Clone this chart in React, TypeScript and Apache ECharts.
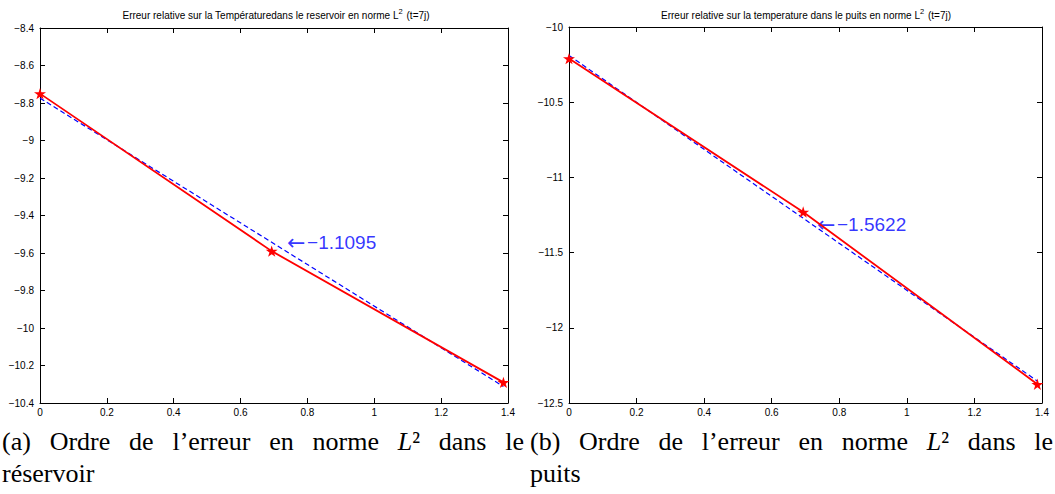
import React, { useEffect, useRef } from "react";
import * as echarts from "echarts";

const X_POINTS = [0, 0.6931, 1.3863];
const RES_ERR = [-8.75, -9.59, -10.29];
const FIT_X = [0, 1.3863];
const RES_FIT = [-8.774, -10.312];
const PUITS_ERR = [-10.21, -11.23, -12.375];
const PUITS_FIT = [-10.189, -12.354];
const RES_SLOPE_LABEL = "−1.1095";
const PUITS_SLOPE_LABEL = "−1.5622";
const RES_LABEL_POS = [0.739, -9.546];
const PUITS_LABEL_POS = [0.734, -11.313];

const TITLE_A_PRE = "Erreur relative sur la Températuredans le reservoir en norme L";
const TITLE_B_PRE = "Erreur relative sur la temperature dans le puits en norme L";
const TITLE_POST = " (t=7j)";

const CAPTION_A1 = ["(a)", "Ordre", "de", "l’erreur", "en", "norme", "L²", "dans", "le"];
const CAPTION_A2 = "réservoir";
const CAPTION_B1 = ["(b)", "Ordre", "de", "l’erreur", "en", "norme", "L²", "dans", "le"];
const CAPTION_B2 = "puits";

const STAR = "path://M50,0 L61,35 L98,35 L68,57 L79,91 L50,70 L21,91 L32,57 L2,35 L39,35 Z";
const SANS = "Liberation Sans, Arial, Helvetica, sans-serif";
const SERIF = "Liberation Serif, Times New Roman, serif";
const CAP_SIZE = 26;

const fmt = (v: number) => String(parseFloat(v.toFixed(2))).replace("-", "−");

function axesFor(idx: number, min: number, max: number, interval: number) {
  const common = {
    gridIndex: idx,
    axisLine: { show: true, onZero: false, lineStyle: { color: "#000", width: 1 } },
    axisTick: { show: true, inside: true, length: 5, lineStyle: { color: "#000" } },
    splitLine: { show: false },
  };
  const xs = [
    {
      ...common,
      type: "value",
      position: "bottom",
      min: 0,
      max: 1.4,
      interval: 0.2,
      axisLabel: { color: "#000", fontSize: 10, fontFamily: SANS, margin: 4, formatter: fmt },
    },
    { ...common, type: "value", position: "top", min: 0, max: 1.4, interval: 0.2, axisLabel: { show: false } },
  ];
  const ys = [
    {
      ...common,
      type: "value",
      position: "left",
      min,
      max,
      interval,
      axisLabel: { color: "#000", fontSize: 10, fontFamily: SANS, margin: 6, formatter: fmt },
    },
    { ...common, type: "value", position: "right", min, max, interval, axisLabel: { show: false } },
  ];
  return { xs, ys };
}

function seriesFor(
  xAxisIndex: number,
  yAxisIndex: number,
  err: number[],
  fit: number[],
  label: string,
  labelPos: number[]
) {
  return [
    {
      type: "line",
      xAxisIndex,
      yAxisIndex,
      data: FIT_X.map((x, i) => [x, fit[i]]),
      showSymbol: false,
      symbol: "none",
      clip: false,
      lineStyle: { color: "#0000ff", width: 1.2, type: [5, 3] },
    },
    {
      type: "line",
      xAxisIndex,
      yAxisIndex,
      data: X_POINTS.map((x, i) => [x, err[i]]),
      symbol: STAR,
      symbolSize: 12,
      symbolKeepAspect: true,
      clip: false,
      itemStyle: { color: "#ff0000" },
      lineStyle: { color: "#ff0000", width: 1.8 },
    },
    {
      type: "scatter",
      xAxisIndex,
      yAxisIndex,
      data: [labelPos],
      symbolSize: 0,
      label: {
        show: true,
        position: "right",
        distance: 0,
        formatter: `{a|←}{t|${label}}`,
        rich: {
          a: { color: "#0000ff", fontSize: 22, fontFamily: "DejaVu Sans", width: 20, align: "left" },
          t: { color: "#0000ff", fontSize: 19, fontFamily: SANS },
        },
      },
    },
  ];
}

export default function App() {
  const ref = useRef<HTMLDivElement>(null);
  useEffect(() => {
    if (!ref.current) return;
    const chart = echarts.init(ref.current, null, { renderer: "svg" });
    const a = axesFor(0, -10.4, -8.4, 0.2);
    const b = axesFor(1, -12.5, -10, 0.5);

    const titleText = (pre: string, cx: number) => ({
      type: "text",
      x: cx,
      y: 20,
      style: {
        text: `{t|${pre}}{s|2}{t|${TITLE_POST}}`,
        align: "center",
        verticalAlign: "bottom",
        rich: {
          t: { fontSize: 10, fontFamily: SANS, fill: "#000", lineHeight: 13, verticalAlign: "bottom" },
          s: { fontSize: 7.5, fontFamily: SANS, fill: "#000", lineHeight: 13, verticalAlign: "top", padding: [0, 1, 0, 0] },
        },
      },
    });

    const ctx = document.createElement("canvas").getContext("2d")!;
    const measure = (w: string) => {
      if (w === "L²") {
        ctx.font = `italic ${CAP_SIZE}px "Liberation Serif"`;
        const l = ctx.measureText("L").width;
        ctx.font = `${CAP_SIZE}px "Liberation Serif"`;
        return l + ctx.measureText("²").width;
      }
      ctx.font = `${CAP_SIZE}px "Liberation Serif"`;
      return ctx.measureText(w).width;
    };

    const justify = (words: string[], x0: number, x1: number, y: number) => {
      const widths = words.map(measure);
      const total = widths.reduce((s, v) => s + v, 0);
      const gap = (x1 - x0 - total) / (words.length - 1);
      let x = x0;
      return words.map((w, i) => {
        const el: any = {
          type: "text",
          x,
          y,
          style:
            w === "L²"
              ? {
                  text: "{l|L}{s|²}",
                  verticalAlign: "middle",
                  rich: {
                    l: { fontSize: CAP_SIZE, fontFamily: SERIF, fontStyle: "italic", fill: "#000" },
                    s: { fontSize: CAP_SIZE, fontFamily: SERIF, fill: "#000" },
                  },
                }
              : { text: w, fontSize: CAP_SIZE, fontFamily: SERIF, fill: "#000", verticalAlign: "middle" },
        };
        x += widths[i] + gap;
        return el;
      });
    };

    const option: any = {
      animation: false,
      backgroundColor: "#fff",
      grid: [
        { left: 40, top: 28, width: 468, height: 375 },
        { left: 569, top: 27, width: 473, height: 376 },
      ],
      xAxis: [...a.xs, ...b.xs],
      yAxis: [...a.ys, ...b.ys],
      series: [
        ...seriesFor(0, 0, RES_ERR, RES_FIT, RES_SLOPE_LABEL, RES_LABEL_POS),
        ...seriesFor(2, 2, PUITS_ERR, PUITS_FIT, PUITS_SLOPE_LABEL, PUITS_LABEL_POS),
      ],
      graphic: [
        titleText(TITLE_A_PRE, 276),
        titleText(TITLE_B_PRE, 806),
        ...justify(CAPTION_A1, 2, 524, 441),
        ...justify(CAPTION_B1, 530, 1053, 441),
        { type: "text", x: 2, y: 473, style: { text: CAPTION_A2, fontSize: CAP_SIZE, fontFamily: SERIF, fill: "#000", verticalAlign: "middle" } },
        { type: "text", x: 530, y: 473, style: { text: CAPTION_B2, fontSize: CAP_SIZE, fontFamily: SERIF, fill: "#000", verticalAlign: "middle" } },
      ],
    };
    chart.setOption(option);
    return () => chart.dispose();
  }, []);
  return (
    <div
      ref={ref}
      style={{ position: "absolute", left: 0, top: 0, width: 1055, height: 494, background: "#fff" }}
    />
  );
}
